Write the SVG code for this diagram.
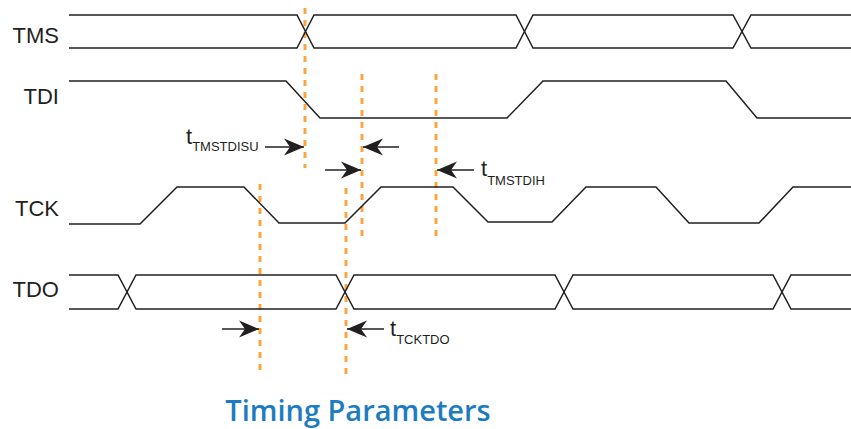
<svg xmlns="http://www.w3.org/2000/svg" width="851" height="429" viewBox="0 0 851 429">
<style>
.sig{fill:none;stroke:#231f20;stroke-width:1.5;stroke-linejoin:miter}
.gd{fill:none;stroke:#f6a83e;stroke-width:3;stroke-dasharray:6 6}
.arr{fill:none;stroke:#231f20;stroke-width:1.5}
.lbl{font-family:"Liberation Sans",Arial,sans-serif;font-size:22px;fill:#231f20}
.t{font-family:"Liberation Sans",Arial,sans-serif;font-size:22px;fill:#231f20}
.sub{font-size:13px}
.title{font-family:"Open Sans","Noto Sans",sans-serif;font-weight:600;font-size:29px;fill:#1c7cc0}
</style>
<defs>
<marker id="ah" markerUnits="userSpaceOnUse" markerWidth="26" markerHeight="22" viewBox="-22 -11 26 22" refX="0" refY="0" orient="auto">
<path d="M0,0 L-20,-8.5 L-14,0 L-20,8.5 Z" fill="#231f20"/>
</marker>
</defs>
<rect width="851" height="429" fill="#ffffff"/>
<g id="guides">
<line class="gd" x1="305" y1="8" x2="305" y2="168"/>
<line class="gd" x1="362" y1="74" x2="362" y2="236"/>
<line class="gd" x1="436" y1="74" x2="436" y2="236"/>
<line class="gd" x1="260" y1="184" x2="260" y2="374"/>
<line class="gd" x1="346" y1="188" x2="346" y2="374"/>
</g>
<g id="TMS">
<text class="lbl" x="59" y="43" text-anchor="end">TMS</text>
<path class="sig" d="M69,15 H297 L314,48 H516 L533,15 H733 L751,48 H851"/>
<path class="sig" d="M69,48 H297 L314,15 H516 L533,48 H733 L751,15 H851"/>
</g>
<g id="TDI">
<text class="lbl" x="59" y="104" text-anchor="end">TDI</text>
<path class="sig" d="M69,81 H286 L320,118 H507 L543,81 H726 L757,118 H851"/>
</g>
<g id="TCK">
<text class="lbl" x="59" y="216" text-anchor="end">TCK</text>
<path class="sig" d="M69,224 H140 L177,187 H244 L279,223 H345 L381,187 H453 L488,222 H552 L586,187 H656 L689,223 H759 L793,187 H851"/>
</g>
<g id="TDO">
<text class="lbl" x="59" y="297" text-anchor="end">TDO</text>
<path class="sig" d="M69,275 H118 L136,309 H336 L354,275 H555 L573,309 H773 L791,275 H851"/>
<path class="sig" d="M69,309 H118 L136,275 H336 L354,309 H555 L573,275 H773 L791,309 H851"/>
</g>
<g id="connectors">
<line class="arr" x1="265" y1="147" x2="304" y2="147" marker-end="url(#ah)"/>
<line class="arr" x1="399" y1="147" x2="363" y2="147" marker-end="url(#ah)"/>
<line class="arr" x1="325" y1="170" x2="361" y2="170" marker-end="url(#ah)"/>
<line class="arr" x1="474" y1="170" x2="437" y2="170" marker-end="url(#ah)"/>
<line class="arr" x1="222" y1="329" x2="259" y2="329" marker-end="url(#ah)"/>
<line class="arr" x1="384" y1="329" x2="347" y2="329" marker-end="url(#ah)"/>
</g>
<g id="labels">
<text class="t" x="186" y="144">t<tspan class="sub" dy="7">TMSTDISU</tspan></text>
<text class="t" x="481" y="176">t<tspan class="sub" dy="9">TMSTDIH</tspan></text>
<text class="t" x="390" y="336">t<tspan class="sub" dy="8">TCKTDO</tspan></text>
</g>
<g id="title">
<text class="title" x="358" y="421" text-anchor="middle">Timing Parameters</text>
</g>
</svg>
